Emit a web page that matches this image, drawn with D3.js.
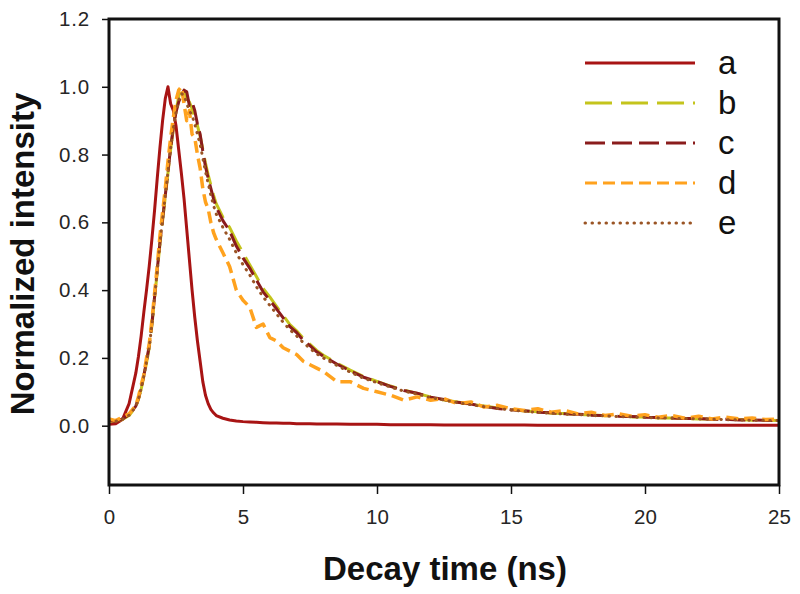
<!DOCTYPE html>
<html>
<head>
<meta charset="utf-8">
<script src="https://cdn.jsdelivr.net/npm/d3@7"></script>
<style>
  html, body { margin: 0; padding: 0; background: #fff; }
  svg { display: block; }
</style>
</head>
<body>
<svg id="chart" width="800" height="594"></svg>
<script>
// ---- data ----
const time = [0, 0.25, 0.5, 0.75, 1.0, 1.1, 1.2, 1.3, 1.4, 1.5, 1.6, 1.7, 1.8, 1.9, 2.0, 2.1, 2.2, 2.3, 2.4, 2.5,
  2.6, 2.7, 2.8, 2.9, 3.0, 3.1, 3.2, 3.3, 3.4, 3.5, 3.6, 3.7, 3.8, 3.9, 4.0, 4.25, 4.5, 4.75, 5.0, 5.25,
  5.5, 5.75, 6.0, 6.25, 6.5, 6.75, 7.0, 7.25, 7.5, 7.75, 8.0, 8.5, 9, 9.5, 10, 10.5, 11, 11.5, 12, 12.5,
  13, 13.5, 14, 14.5, 15, 15.5, 16, 16.5, 17, 17.5, 18, 18.5, 19, 19.5, 20, 20.5, 21, 21.5, 22, 22.5,
  23, 23.5, 24, 24.5, 25];

const seriesA = [0.004, 0.006, 0.018, 0.065, 0.155, 0.205, 0.265, 0.335, 0.400, 0.470, 0.550, 0.635, 0.730, 0.820, 0.900, 0.965, 1.000, 0.950, 0.930, 0.885,
  0.815, 0.745, 0.670, 0.580, 0.490, 0.400, 0.320, 0.250, 0.190, 0.130, 0.090, 0.065, 0.048, 0.038, 0.030, 0.022, 0.017, 0.014, 0.012, 0.011,
  0.010, 0.009, 0.008, 0.008, 0.007, 0.007, 0.006, 0.006, 0.006, 0.005, 0.005, 0.005, 0.004, 0.004, 0.004, 0.003, 0.003, 0.003, 0.003, 0.002,
  0.002, 0.002, 0.002, 0.002, 0.002, 0.002, 0.001, 0.001, 0.001, 0.001, 0.001, 0.001, 0.001, 0.001, 0.001, 0.001, 0.001, 0.001, 0.001, 0.001,
  0.001, 0.001, 0.001, 0.001, 0.001];

const seriesB = [0.012, 0.014, 0.018, 0.030, 0.055, 0.078, 0.108, 0.145, 0.185, 0.230, 0.295, 0.375, 0.455, 0.535, 0.605, 0.675, 0.745, 0.815, 0.875, 0.930,
  0.970, 1.000, 0.990, 0.965, 0.955, 0.935, 0.910, 0.885, 0.855, 0.815, 0.775, 0.740, 0.710, 0.680, 0.655, 0.615, 0.585, 0.545, 0.510, 0.475,
  0.440, 0.405, 0.380, 0.352, 0.325, 0.298, 0.280, 0.258, 0.240, 0.222, 0.208, 0.185, 0.164, 0.145, 0.131, 0.117, 0.105, 0.095, 0.085, 0.076,
  0.070, 0.063, 0.058, 0.052, 0.048, 0.043, 0.041, 0.037, 0.036, 0.033, 0.032, 0.029, 0.029, 0.026, 0.026, 0.023, 0.023, 0.021, 0.020, 0.020,
  0.018, 0.018, 0.016, 0.016, 0.015];

const seriesC = [0.015, 0.012, 0.020, 0.032, 0.058, 0.080, 0.112, 0.148, 0.190, 0.235, 0.300, 0.380, 0.460, 0.540, 0.610, 0.680, 0.750, 0.820, 0.880, 0.925,
  0.955, 0.975, 0.990, 0.985, 0.945, 0.955, 0.930, 0.890, 0.860, 0.810, 0.765, 0.730, 0.700, 0.670, 0.645, 0.605, 0.575, 0.530, 0.495, 0.465,
  0.430, 0.395, 0.370, 0.345, 0.318, 0.292, 0.275, 0.252, 0.236, 0.218, 0.205, 0.182, 0.162, 0.143, 0.130, 0.116, 0.104, 0.096, 0.084, 0.077,
  0.069, 0.064, 0.057, 0.051, 0.047, 0.044, 0.040, 0.038, 0.035, 0.034, 0.031, 0.030, 0.028, 0.027, 0.025, 0.024, 0.023, 0.021, 0.021, 0.019,
  0.019, 0.017, 0.017, 0.016, 0.015];

const seriesD = [0.020, 0.015, 0.025, 0.035, 0.060, 0.085, 0.120, 0.150, 0.200, 0.240, 0.310, 0.390, 0.470, 0.560, 0.630, 0.700, 0.780, 0.850, 0.910, 0.960,
  0.990, 1.000, 0.950, 0.900, 0.930, 0.860, 0.850, 0.800, 0.760, 0.700, 0.660, 0.640, 0.600, 0.570, 0.550, 0.510, 0.470, 0.400, 0.370, 0.350,
  0.290, 0.300, 0.260, 0.250, 0.230, 0.220, 0.210, 0.190, 0.180, 0.170, 0.160, 0.130, 0.130, 0.110, 0.100, 0.090, 0.075, 0.085, 0.075, 0.080,
  0.065, 0.070, 0.055, 0.060, 0.050, 0.045, 0.050, 0.040, 0.045, 0.035, 0.040, 0.030, 0.035, 0.028, 0.032, 0.025, 0.030, 0.022, 0.028, 0.020,
  0.025, 0.020, 0.023, 0.018, 0.020];

const seriesE = [0.014, 0.013, 0.019, 0.031, 0.056, 0.079, 0.110, 0.146, 0.188, 0.232, 0.298, 0.378, 0.458, 0.538, 0.608, 0.678, 0.748, 0.818, 0.878, 0.925,
  0.960, 0.980, 0.975, 0.950, 0.930, 0.915, 0.890, 0.860, 0.830, 0.790, 0.750, 0.715, 0.680, 0.650, 0.625, 0.585, 0.550, 0.510, 0.475, 0.445,
  0.410, 0.380, 0.355, 0.330, 0.305, 0.283, 0.265, 0.245, 0.228, 0.212, 0.200, 0.178, 0.158, 0.140, 0.127, 0.114, 0.102, 0.093, 0.083, 0.076,
  0.068, 0.062, 0.056, 0.051, 0.046, 0.043, 0.039, 0.037, 0.034, 0.033, 0.030, 0.029, 0.027, 0.026, 0.024, 0.023, 0.022, 0.021, 0.020, 0.019,
  0.018, 0.017, 0.016, 0.016, 0.015];

const seriesNames = ["a", "b", "c", "d", "e"];
const xTicks = [0, 5, 10, 15, 20, 25];
const yTicks = [0.0, 0.2, 0.4, 0.6, 0.8, 1.0, 1.2];

// ---- styles ----
const styles = {
  a: { color: "#a81414", dash: null, cap: "butt", width: 3 },
  b: { color: "#c4c41c", dash: "27,9", cap: "butt", width: 3 },
  c: { color: "#8a1c1c", dash: "20,7", cap: "butt", width: 3 },
  d: { color: "#ffa21e", dash: "12,6", cap: "butt", width: 3.5 },
  e: { color: "#9a5424", dash: "0.5,6.5", cap: "round", width: 3 }
};
const allSeries = { a: seriesA, b: seriesB, c: seriesC, d: seriesD, e: seriesE };

// ---- layout ----
const svg = d3.select("#chart");
const margin = { left: 109, right: 21, top: 19, bottom: 109 };
const W = 800, H = 594;
const x = d3.scaleLinear().domain([0, 25]).range([margin.left, W - margin.right]);
const y = d3.scaleLinear().domain([-0.175, 1.2]).range([H - margin.bottom, margin.top]);

svg.append("defs").append("clipPath").attr("id", "clip")
  .append("rect").attr("x", margin.left).attr("y", margin.top)
  .attr("width", W - margin.left - margin.right).attr("height", H - margin.top - margin.bottom);

const line = d3.line().x((d, i) => x(time[i])).y(d => y(d));

const plot = svg.append("g").attr("clip-path", "url(#clip)");
seriesNames.forEach(name => {
  const s = styles[name];
  plot.append("path")
    .datum(allSeries[name])
    .attr("fill", "none")
    .attr("stroke", s.color)
    .attr("stroke-width", s.width)
    .attr("stroke-linejoin", "round")
    .attr("stroke-linecap", s.cap)
    .attr("stroke-dasharray", s.dash)
    .attr("d", line);
});

// axes
const xAxis = d3.axisBottom(x).tickValues(xTicks).tickFormat(d3.format("d")).tickSize(9).tickPadding(15);
const yAxis = d3.axisLeft(y).tickValues(yTicks).tickFormat(d3.format(".1f")).tickSize(7).tickPadding(12);

const gx = svg.append("g").attr("transform", `translate(0,${H - margin.bottom})`).call(xAxis);
const gy = svg.append("g").attr("transform", `translate(${margin.left},0)`).call(yAxis);
[gx, gy].forEach(g => {
  g.select(".domain").remove();
  g.selectAll(".tick line").attr("stroke", "#111").attr("stroke-width", 1.5);
  g.selectAll(".tick text").attr("fill", "#262626").style("font-family", "Liberation Sans, Arial, sans-serif").style("font-size", "20.5px");
});
gy.selectAll(".tick text").style("letter-spacing", "0.8px");

// frame
svg.append("rect")
  .attr("x", margin.left).attr("y", margin.top)
  .attr("width", W - margin.left - margin.right).attr("height", H - margin.top - margin.bottom)
  .attr("fill", "none").attr("stroke", "#111").attr("stroke-width", 3);

// axis titles
svg.append("text")
  .attr("x", (x(0) + x(25)) / 2 + 1).attr("y", 580)
  .attr("text-anchor", "middle")
  .style("font-family", "Liberation Sans, Arial, sans-serif").style("font-weight", "bold").style("font-size", "33px")
  .attr("fill", "#111")
  .text("Decay time (ns)");

svg.append("text")
  .attr("transform", `translate(34,254) rotate(-90)`)
  .attr("text-anchor", "middle")
  .style("font-family", "Liberation Sans, Arial, sans-serif").style("font-weight", "bold").style("font-size", "33px")
  .attr("fill", "#111")
  .text("Normalized intensity");

// legend
const legendY = d3.scalePoint().domain(seriesNames).range([63, 223]);
const lg = svg.append("g");
seriesNames.forEach(name => {
  const s = styles[name];
  const yy = legendY(name);
  lg.append("line")
    .attr("x1", 585).attr("x2", 695).attr("y1", yy).attr("y2", yy)
    .attr("stroke", s.color).attr("stroke-width", 3)
    .attr("stroke-linecap", s.cap)
    .attr("stroke-dasharray", s.dash);
  lg.append("text")
    .attr("x", 718).attr("y", yy + 11)
    .style("font-family", "Liberation Sans, Arial, sans-serif").style("font-size", "33px")
    .attr("fill", "#111")
    .text(name);
});
</script>
</body>
</html>
